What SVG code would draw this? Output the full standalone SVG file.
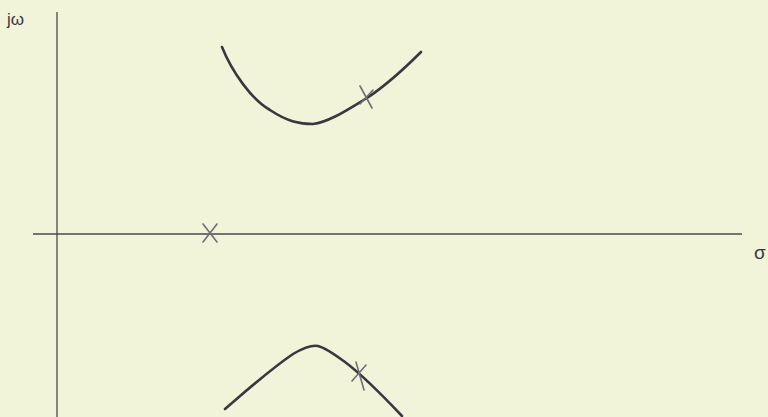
<svg xmlns="http://www.w3.org/2000/svg" width="768" height="417" viewBox="0 0 768 417">
<style>
.axis{stroke:#4a4a50;stroke-width:1.3;fill:none}
.locus{stroke:#38383f;stroke-width:2.6;fill:none;stroke-linecap:round;stroke-linejoin:round}
.pole{stroke:#6e6e74;stroke-width:1.6;fill:none;stroke-linecap:round}
.lbl{font-family:"Liberation Sans",sans-serif;font-size:17px;fill:#38383f}
</style>
<rect width="768" height="417" fill="#f2f4da"/>
<g id="axes">
<line class="axis" x1="57" y1="12" x2="57" y2="417"/>
<line class="axis" x1="33" y1="234" x2="742" y2="234"/>
</g>
<g id="labels">
<text class="lbl" x="7" y="25">jω</text>
<text class="lbl" x="754" y="259" style="font-size:19px">σ</text>
</g>
<g id="loci">
<path class="locus" d="M222,47 C232,72 252,100 270,110 C288,122 300,124 313,124 C330,122 350,108 367,98 C385,86 405,68 421,52"/>
<path class="locus" d="M225,409 C245,392 268,371 293,354 C305,347 312,345 318,346 C326,348 334,354 345,362 C365,377 385,398 402,416"/>
</g>
<g id="poles">
<path class="pole" d="M203,224 L217,242 M217,224 L203,242"/>
<path class="pole" d="M360,86 L372,108 M373,90 L360,104"/>
<path class="pole" d="M356,362 L364,390 M366,365 L352,381"/>
</g>
</svg>
